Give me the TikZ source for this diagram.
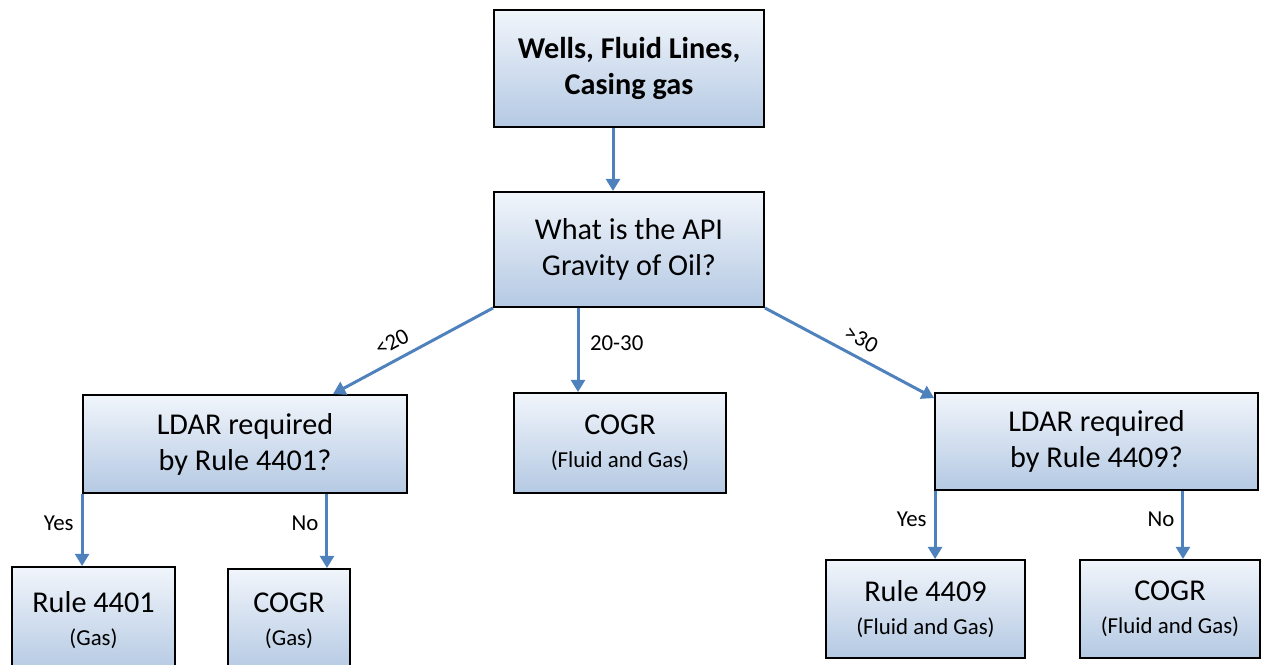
\documentclass[tikz,border=0pt]{standalone}
\usepackage{fontspec}
\setmainfont{Carlito}
\usetikzlibrary{arrows.meta}
\definecolor{arrblue}{HTML}{4F81BD}
\definecolor{boxtop}{HTML}{F1F5FB}
\definecolor{boxbot}{HTML}{B4C9E3}
\tikzset{
  flowbox/.style={draw=black, line width=1.1pt, top color=boxtop, bottom color=boxbot, align=center, inner sep=2pt, font=\fontsize{17.2}{20.5}\selectfont},
  arr/.style={draw=arrblue, line width=1.7pt, -{Triangle[width=8pt,length=7pt]}},
  lbl/.style={font=\fontsize{13}{15}\selectfont, inner sep=2pt},
}
\newcommand{\sm}[1]{{\fontsize{13}{15}\selectfont #1}}
\begin{document}
\begin{tikzpicture}[x=0.02cm,y=-0.02cm]
\useasboundingbox (0,0) rectangle (1262,664);
\node[flowbox, minimum width=5.4cm, minimum height=2.34cm] (top) at (629,68.5) {\textbf{Wells, Fluid Lines,}\\\textbf{Casing gas}};
\node[flowbox, minimum width=5.4cm, minimum height=2.3cm] (api) at (629,249.5) {What is the API\\Gravity of Oil?};
\node[flowbox, minimum width=6.48cm, minimum height=1.96cm] (ldarL) at (245,444) {LDAR required\\by Rule 4401?};
\node[flowbox, minimum width=4.24cm, minimum height=2cm] (cogrM) at (620,443) {COGR\\[-2pt]\sm{(Fluid and Gas)}};
\node[flowbox, minimum width=6.46cm, minimum height=1.94cm] (ldarR) at (1096.5,441.5) {LDAR required\\by Rule 4409?};
\node[flowbox, minimum width=3.26cm, minimum height=2.12cm] (r4401) at (93.5,620) {Rule 4401\\[-2pt]\sm{(Gas)}};
\node[flowbox, minimum width=2.44cm, minimum height=2.08cm] (cogrG) at (289,621) {COGR\\[-2pt]\sm{(Gas)}};
\node[flowbox, minimum width=3.98cm, minimum height=1.96cm] (r4409) at (925.5,609) {Rule 4409\\[-2pt]\sm{(Fluid and Gas)}};
\node[flowbox, minimum width=3.6cm, minimum height=1.96cm] (cogrR) at (1170,609) {COGR\\[-2pt]\sm{(Fluid and Gas)}};

\draw[arr] ([xshift=-0.32cm]top.south) -- ([xshift=-0.32cm]api.north);
\draw[arr] (api.south west) -- node[lbl, sloped, above, pos=0.58, yshift=3pt] {<20} ([xshift=1.76cm]ldarL.north);
\draw[arr] ([xshift=-1.02cm]api.south) -- node[lbl, right, pos=0.42, xshift=4pt] {20-30} ([xshift=-1.02cm]api.south |- cogrM.north);
\draw[arr] (api.south east) -- node[lbl, sloped, above, pos=0.52, yshift=3pt] {>30} ([yshift=-0.12cm]ldarR.north west);
\draw[arr] (ldarL.south west) -- node[lbl, left, pos=0.4, xshift=-2pt] {Yes} (ldarL.south west |- r4401.north);
\draw[arr] ([xshift=1.64cm]ldarL.south) -- node[lbl, left, pos=0.4, xshift=-2pt] {No} ([xshift=1.64cm]ldarL.south |- cogrG.north);
\draw[arr] ([xshift=0.02cm]ldarR.south west) -- node[lbl, left, pos=0.42, xshift=-2pt] {Yes} ([xshift=0.02cm]ldarR.south west |- r4409.north);
\draw[arr] ([xshift=1.73cm]ldarR.south) -- node[lbl, left, pos=0.42, xshift=-2pt] {No} ([xshift=1.73cm]ldarR.south |- cogrR.north);
\end{tikzpicture}
\end{document}
